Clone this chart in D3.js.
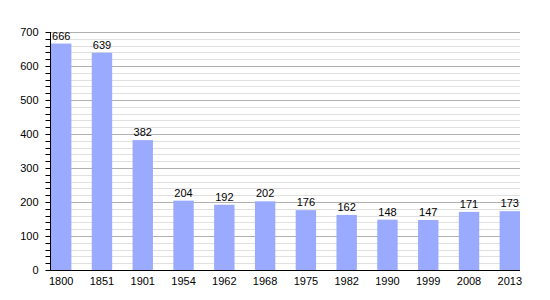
<!DOCTYPE html>
<html>
<head>
<meta charset="utf-8">
<script src="https://cdn.jsdelivr.net/npm/d3@7"></script>
<style>
  body { margin: 0; background: #fff; }
  svg { font-family: "Liberation Sans", Arial, sans-serif; }
</style>
</head>
<body>
<div id="chart"></div>
<script>
// Data
const years = ["1800", "1851", "1901", "1954", "1962", "1968", "1975", "1982", "1990", "1999", "2008", "2013"];
const population = [666, 639, 382, 204, 192, 202, 176, 162, 148, 147, 171, 173];
const yTicks = [0, 100, 200, 300, 400, 500, 600, 700];

const width = 550;
const height = 300;
const margin = { top: 32, left: 50, bottom: 30, right: 30 };

const svg = d3.select("div#chart").append("svg")
    .attr("width", width)
    .attr("height", height);

// Scales
const x = d3.scaleBand()
    .domain(years)
    .range([margin.left + 1, width - margin.right])
    .paddingInner(0.5)
    .paddingOuter(0)
    .align(0);

const y = d3.scaleLinear()
    .domain([0, 700])
    .range([height - margin.bottom, margin.top]);

// Minor grid lines (every 20)
svg.append("g")
    .selectAll("line")
    .data(d3.range(20, 701, 20).filter(v => v % 100 !== 0))
    .join("line")
    .attr("x1", margin.left)
    .attr("x2", width - margin.right)
    .attr("y1", d => Math.round(y(d)) + 0.5)
    .attr("y2", d => Math.round(y(d)) + 0.5)
    .attr("stroke", "#e0e0e0");

// Major grid lines
svg.append("g")
    .selectAll("line")
    .data(yTicks.filter(v => v > 0))
    .join("line")
    .attr("x1", margin.left)
    .attr("x2", width - margin.right)
    .attr("y1", d => Math.round(y(d)) + 0.5)
    .attr("y2", d => Math.round(y(d)) + 0.5)
    .attr("stroke", "#b0b0b0");

// Bars
svg.append("g")
    .selectAll("rect")
    .data(years.map((yr, i) => ({ yr, v: population[i] })))
    .join("rect")
    .attr("x", d => x(d.yr))
    .attr("y", d => y(d.v))
    .attr("width", x.bandwidth())
    .attr("height", d => y(0) - y(d.v))
    .attr("fill", "#99aaff");

// Value labels
svg.append("g")
    .selectAll("text")
    .data(years.map((yr, i) => ({ yr, v: population[i] })))
    .join("text")
    .attr("x", d => x(d.yr) + x.bandwidth() / 2)
    .attr("y", d => y(d.v) - 4)
    .attr("text-anchor", "middle")
    .style("font-size", "11px")
    .attr("fill", "#000")
    .text(d => d.v);

// Y axis with minor ticks every 20
const yAxis = svg.append("g")
    .attr("transform", `translate(${margin.left + 0.5},0)`);

yAxis.append("line")
    .attr("y1", y(700))
    .attr("y2", y(0))
    .attr("stroke", "#000");

yAxis.selectAll("line.tick")
    .data(d3.range(0, 701, 20))
    .join("line")
    .attr("class", "tick")
    .attr("x1", -5)
    .attr("x2", 0)
    .attr("y1", d => Math.round(y(d)) + 0.5)
    .attr("y2", d => Math.round(y(d)) + 0.5)
    .attr("stroke", "#000");

yAxis.selectAll("text")
    .data(yTicks)
    .join("text")
    .attr("x", -12)
    .attr("y", d => y(d))
    .attr("dy", "0.35em")
    .attr("text-anchor", "end")
    .style("font-size", "11px")
    .text(d => d);

// X axis
svg.append("line")
    .attr("x1", margin.left)
    .attr("x2", width - margin.right)
    .attr("y1", y(0) + 0.5)
    .attr("y2", y(0) + 0.5)
    .attr("stroke", "#000");

svg.append("g")
    .selectAll("text")
    .data(years)
    .join("text")
    .attr("x", d => x(d) + x.bandwidth() / 2)
    .attr("y", y(0) + 15)
    .attr("text-anchor", "middle")
    .style("font-size", "11px")
    .text(d => d);
</script>
</body>
</html>
